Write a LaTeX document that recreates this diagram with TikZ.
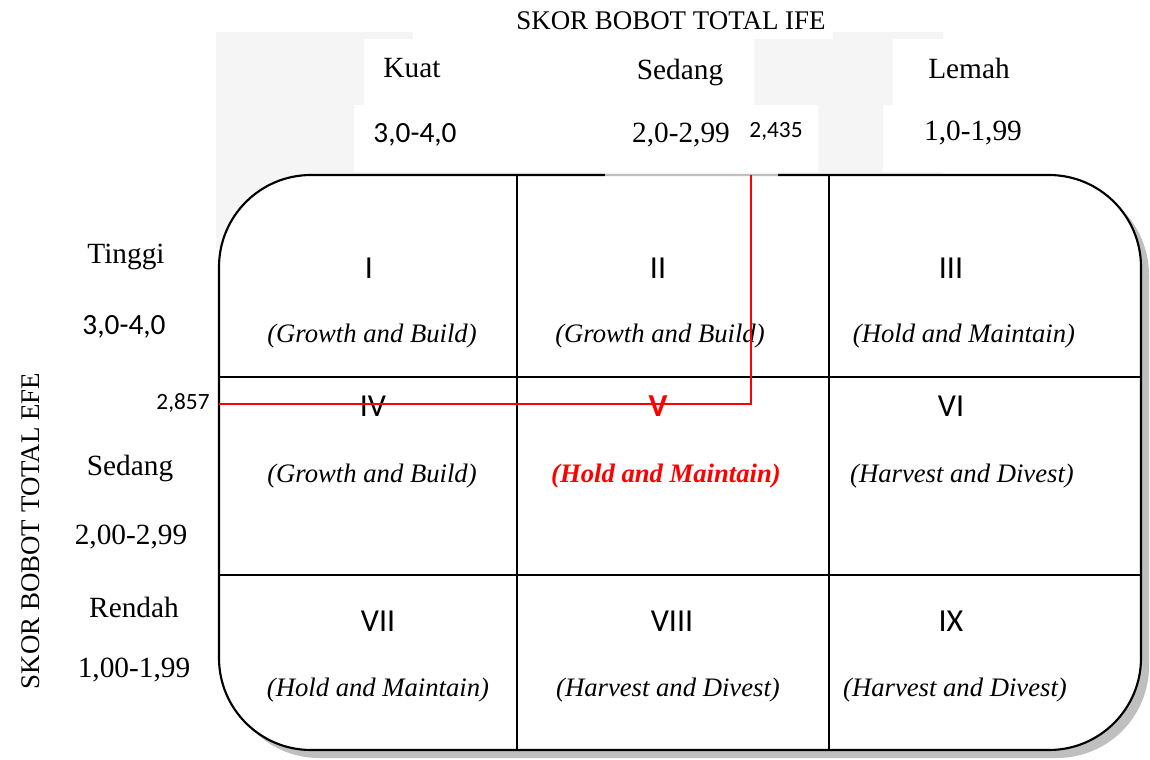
\documentclass[tikz,border=0pt]{standalone}
\usepackage{fontspec}
\setmainfont{Liberation Serif}
\newfontfamily\calib{Carlito}
\begin{document}
\begin{tikzpicture}[x=0.75pt,y=-0.75pt,
  title/.style={inner sep=0pt,font=\fontsize{20.2}{24}\selectfont},
  lbl/.style={inner sep=0pt,font=\fontsize{22}{26}\selectfont},
  rng/.style={inner sep=0pt,font=\calib\fontsize{22}{26}\selectfont},
  num/.style={inner sep=0pt,font=\calib\fontsize{17.5}{21}\selectfont},
  roman/.style={inner sep=0pt,font=\calib\fontsize{24}{28}\selectfont},
  strat/.style={inner sep=0pt,font=\fontsize{20}{24}\selectfont\itshape},
  gridline/.style={line width=1.6pt,black},
  marker/.style={line width=1.5pt,red}]
\useasboundingbox (0,0) rectangle (1150,760);
% faint backdrop behind the header labels
\fill[black!4] (216,32) rectangle (943,248);
\fill[white] (413,0) rectangle (833,39);
\fill[white] (364,39) rectangle (754,105);
\fill[white] (893,39) rectangle (1150,105);
\fill[white] (354,105) rectangle (818,172);
\fill[white] (883,105) rectangle (1150,172);
% matrix frame with its drop shadow
\fill[black!25,rounded corners=69pt] (227,183) rectangle (1149,758);
\fill[white,rounded corners=69pt] (219,175) rectangle (1141,750);
\draw[gridline,rounded corners=69pt] (219,175) rectangle (1141,750);
\draw[gridline] (517,175) -- (517,750);
\draw[gridline] (829,175) -- (829,750);
\draw[gridline] (219,377) -- (1141,377);
\draw[gridline] (219,575) -- (1141,575);
\fill[white,opacity=0.75] (605,172) rectangle (778,179);
% header (IFE)
\node[title] (ifetitle) at (671,21) {SKOR BOBOT TOTAL IFE};
\node[lbl] (kuat) at (412,68) {Kuat};
\node[lbl] (sedangtop) at (680,72) {Sedang};
\node[lbl] (lemah) at (969,68) {Lemah};
\node[rng] (r1) at (415,135) {3,0-4,0};
\node[lbl] (r2) at (681,135) {2,0-2,99};
\node[lbl] (r3) at (973,133) {1,0-1,99};
\node[num] (ifeval) at (776,131) {2,435};
% side labels (EFE)
\node[title,rotate=90] (efetitle) at (31,531) {SKOR BOBOT TOTAL EFE};
\node[lbl] (tinggi) at (126,257) {Tinggi};
\node[rng] (s1) at (124,327) {3,0-4,0};
\node[lbl] (sedangside) at (130,468) {Sedang};
\node[lbl] (s2) at (131,537) {2,00-2,99};
\node[lbl] (rendah) at (134,607) {Rendah};
\node[lbl] (s3) at (134,670) {1,00-1,99};
\node[num] (efeval) at (183,403) {2,857};
% cells
\node[roman] (c1) at (369,268) {I};
\node[strat] (t1) at (372,336) {(Growth and Build)};
\node[roman] (c2) at (658,268) {II};
\node[strat] (t2) at (660,336) {(Growth and Build)};
\node[roman] (c3) at (951,268) {III};
\node[strat] (t3) at (964,336) {(Hold and Maintain)};
\node[roman] (c4) at (373,406) {IV};
\node[strat] (t4) at (372,476) {(Growth and Build)};
\node[roman,text=red,font=\calib\bfseries\fontsize{24}{28}\selectfont] (c5) at (658,406) {V};
\node[strat,text=red,font=\fontsize{20}{24}\selectfont\bfseries\itshape] (t5) at (666,476) {(Hold and Maintain)};
\node[roman] (c6) at (951,406) {VI};
\node[strat] (t6) at (962,476) {(Harvest and Divest)};
\node[roman] (c7) at (378,621) {VII};
\node[strat] (t7) at (378,690) {(Hold and Maintain)};
\node[roman] (c8) at (672,621) {VIII};
\node[strat] (t8) at (668,690) {(Harvest and Divest)};
\node[roman] (c9) at (951,621) {IX};
\node[strat] (t9) at (955,690) {(Harvest and Divest)};
% position of the company: EFE 2,857 against IFE 2,435
\coordinate (efept) at (219,404);
\coordinate (ifept) at (751,175);
\draw[marker] (efept) -| (ifept);
\end{tikzpicture}
\end{document}
